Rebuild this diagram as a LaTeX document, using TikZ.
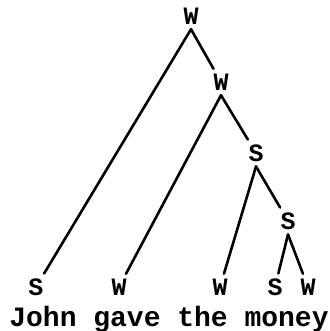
\documentclass[tikz,border=0pt]{standalone}
\usepackage{fontspec}
\setmonofont{Liberation Mono}
\usetikzlibrary{positioning}

\begin{document}
\begin{tikzpicture}[x=1pt,y=-1pt,
    lbl/.style={font=\ttfamily\bfseries\fontsize{25}{25}\selectfont,inner sep=0pt,outer sep=5pt},
    words/.style={font=\ttfamily\bfseries\fontsize{28}{28}\selectfont,inner sep=0pt,anchor=base},
    branch/.style={line width=2.6pt,line cap=round}]
    \useasboundingbox (0,0) rectangle (329,331);

    % internal nodes
    \node[lbl] (root) at (191,16) {W};
    \node[lbl] (wbar) at (221,82) {W};
    \node[lbl] (sone) at (256,153) {S};
    \node[lbl] (stwo) at (288,221) {S};

    % leaves
    \node[lbl] (john)  at (36,287)  {S};
    \node[lbl] (gave)  at (119,287) {W};
    \node[lbl] (the)   at (220,287) {W};
    \node[lbl] (mon)   at (275,287) {S};
    \node[lbl] (ey)    at (308,287) {W};

    \node[words] (sent) at (169,326) {John gave the money};

    % branches
    \draw[branch] (root.south) -- (john);
    \draw[branch] (root.south) -- (wbar);
    \draw[branch] (wbar.south) -- (gave);
    \draw[branch] (wbar.south) -- (sone);
    \draw[branch] (sone.south) -- (the);
    \draw[branch] (sone.south) -- (stwo);
    \draw[branch] (stwo.south) -- (mon);
    \draw[branch] (stwo.south) -- (ey);
\end{tikzpicture}
\end{document}
